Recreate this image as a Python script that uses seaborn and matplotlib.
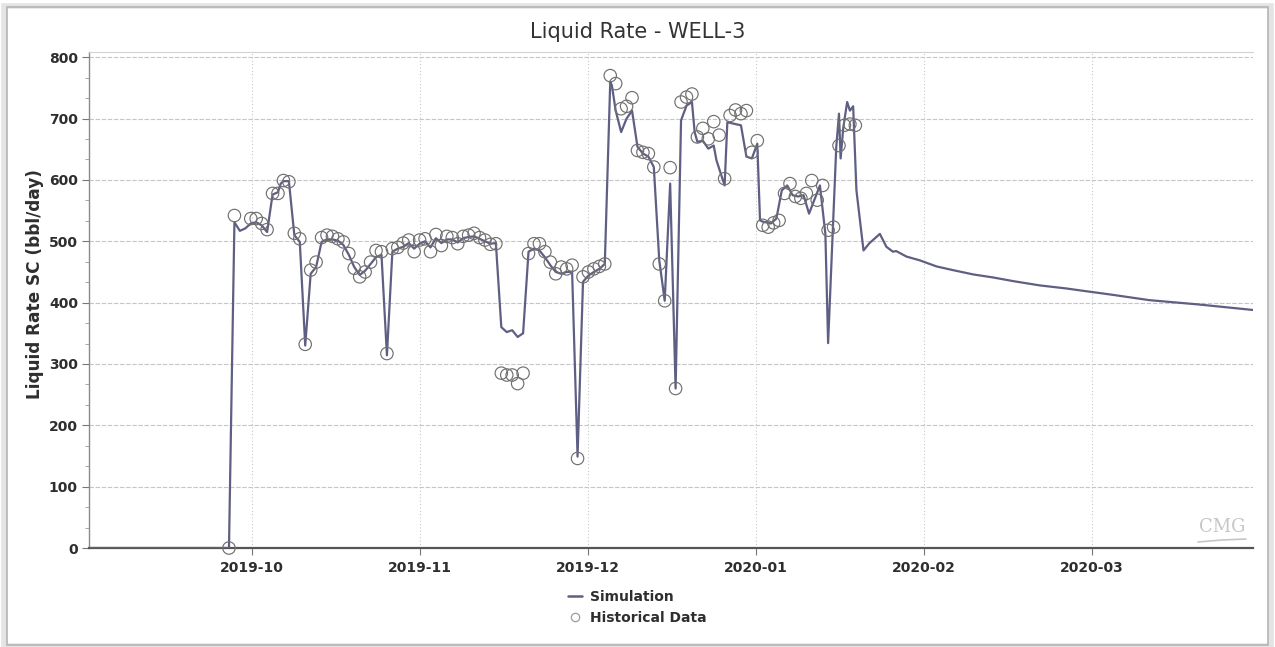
import numpy as np
import pandas as pd
import matplotlib
matplotlib.use("Agg")
import matplotlib.pyplot as plt
import matplotlib.dates as mdates
from matplotlib.lines import Line2D
from matplotlib.patches import Rectangle
from matplotlib.ticker import MultipleLocator, AutoMinorLocator
import seaborn as sns

# ---------------------------------------------------------------------------
# Data (liquid rate, bbl/day).  Times are given in days from 2019-10-01.
# ---------------------------------------------------------------------------
origin = pd.Timestamp("2019-10-01")

# Historical daily measurements, starting 2019-09-27 (NaN = no record)
hist_first = "2019-09-27"
hist_rate = [
    0, 542, np.nan, np.nan,
    537, 537, 529, 519, 578, 578, 599, 597, 513, 504,
    332, 453, 466, 506, 510, 508, 504, 499, 480, 456,
    442, 450, 466, 485, 483, 317, 488, 490, 497, 502,
    483, 502, 504, 483, 511, 493, 508, 506, 496, 508,
    510, 513, 506, 502, 495, 496, 285, 282, 282, 268,
    285, 480, 496, 496, 483, 466, 447, 458, 455, 461,
    146, 442, 450, 455, 459, 463, 770, 757, 716, 720,
    734, 648, 645, 643, 621, 463, 403, 620, 260, 727,
    735, 740, 670, 684, 667, 695, 673, 602, 705, 714,
    708, 713, 645, 664, 526, 523, 530, 534, 578, 594,
    573, 570, 578, 599, 567, 591, 518, 523, 656, 689,
    691, 689,
]

# Simulation output (report times in days, rates)
sim_day = [
    -30, -4, -3, -2, -1, 0, 1, 2, 3, 4, 5, 5.5, 6, 7, 8, 9, 10, 11, 12, 13,
    14, 15, 16, 17, 18, 19, 20, 21, 22, 23, 24, 25, 26, 27, 28, 29, 30, 31,
    32, 33, 34, 35, 36, 37, 38, 39, 40, 41, 42, 43, 44, 45, 46, 47, 48, 49,
    50, 51, 52, 53, 54, 55, 56, 57, 58, 59, 60, 61, 62, 63, 64, 65, 66, 66.3,
    67, 68, 69, 70, 71, 72, 73, 74, 75, 76, 77, 78, 79, 80, 81, 81.5, 82, 83,
    84, 85, 85.5, 87, 87.5, 89, 90, 91, 92, 93, 93.5, 94, 95.5, 96.5, 97.5,
    98.5, 99.5, 100.5, 101.5, 102.5, 104.5, 105.5, 106, 107.5, 108, 108.3,
    108.8, 109.5, 110, 110.6, 111.2, 112.5, 113.6, 115.5, 116.7, 117.9, 118.5,
    120.4, 122.8, 125.9, 128.9, 132.6, 136.3, 140, 144.9, 149.8, 152.2, 158,
    165, 174, 184,
]
sim_rate = [
    0, 0, 531, 517, 521, 529, 531, 526, 515, 576, 580, 594, 598, 598, 510, 499, 330, 447, 458, 499,
    503, 503, 501, 494, 478, 458, 445, 452, 463, 474, 478, 314, 483, 488, 491, 497, 488, 496,
    500, 490, 505, 497, 503, 503, 498, 505, 507, 508, 504, 500, 496, 497, 360, 352, 355, 344,
    350, 483, 488, 485, 474, 461, 450, 447, 450, 450, 149, 434, 444, 450, 455, 463, 760, 754,
    713, 678, 700, 713, 654, 643, 638, 621, 469, 403, 594, 260, 697, 721, 727, 678, 662, 664,
    651, 656, 632, 591, 694, 691, 689, 638, 635, 659, 534, 532, 529, 537, 583,
    591, 575, 573, 575, 545, 591, 512, 334, 654, 708, 635,
    686, 727, 713, 720, 583, 485, 497, 512, 491, 483, 484,
    475, 469, 459, 453, 446, 441, 435, 428, 423, 420, 413,
    404, 397, 388,
]

tick_labels_fmt = "%Y-%m"
n_ticks = 6
tick_first_day = 0.2
tick_step_days = 30.85
x_start_day, x_end_day = -29.7, 184.0

SIM_COLOR = "#5f5f84"
HIST_COLOR = "#707070"
TEXT_COLOR = "#2e2e2e"

# ---------------------------------------------------------------------------
sns.set_theme(style="white")
plt.rcParams["font.family"] = ["DejaVu Sans"]

fig = plt.figure(figsize=(12.75, 6.47), dpi=100)
ax = fig.add_axes([0.0698, 0.1530, 0.9129, 0.7671])

sim_dates = origin + pd.to_timedelta(np.asarray(sim_day, dtype=float), unit="D")
hist_dates = pd.date_range(hist_first, periods=len(hist_rate), freq="D")

sns.lineplot(x=np.asarray(sim_dates), y=sim_rate, ax=ax, color=SIM_COLOR,
             linewidth=1.6, estimator=None, sort=False, zorder=3)
sns.scatterplot(x=np.asarray(hist_dates), y=hist_rate, ax=ax, s=80,
                facecolor="none", edgecolor=HIST_COLOR, linewidth=0.85,
                zorder=4, clip_on=False)

# axes limits and ticks
x0 = mdates.date2num(origin + pd.Timedelta(days=x_start_day))
x1 = mdates.date2num(origin + pd.Timedelta(days=x_end_day))
ax.set_xlim(x0, x1)
ax.set_ylim(0, 809)

tick_dates = origin + pd.to_timedelta(tick_first_day + np.arange(n_ticks) * tick_step_days, unit="D")
ax.set_xticks(mdates.date2num(tick_dates.to_pydatetime()))
ax.xaxis.set_major_formatter(mdates.DateFormatter(tick_labels_fmt))
ax.yaxis.set_major_locator(MultipleLocator(100))
ax.yaxis.set_minor_locator(AutoMinorLocator(3))

ax.tick_params(axis="both", which="major", direction="out", length=5,
               width=0.8, color="#777777", labelsize=10, labelcolor=TEXT_COLOR)
ax.tick_params(axis="y", which="major", pad=3, left=True)
ax.tick_params(axis="x", which="major", pad=4, bottom=True)
ax.tick_params(axis="y", which="minor", direction="out", length=3,
               width=0.6, color="#999999", left=True)
for lbl in ax.get_xticklabels() + ax.get_yticklabels():
    lbl.set_fontweight("bold")

ax.set_xlabel("")
ax.set_ylabel("")

# grid
ax.set_axisbelow(True)
ax.grid(axis="y", which="major", color="#c6c6c6", linestyle=(0, (4, 1.5)), linewidth=0.8)
ax.grid(axis="x", which="major", color="#c8c8c8", linestyle=(0, (1, 2)), linewidth=0.8)

# spines
ax.spines["right"].set_visible(False)
ax.spines["top"].set_color("#d2d2d2")
ax.spines["top"].set_linewidth(0.8)
ax.spines["left"].set_color("#8a8a8a")
ax.spines["left"].set_linewidth(1.0)
ax.spines["bottom"].set_color("#555555")
ax.spines["bottom"].set_linewidth(1.6)

# titles
fig.text(0.5, 0.9505, "Liquid Rate - WELL-3", ha="center", va="center",
         fontsize=15, color="#333333")
fig.text(0.0275, 0.561, "Liquid Rate SC (bbl/day)", rotation=90,
         ha="center", va="center", fontsize=12.2, fontweight="bold",
         color=TEXT_COLOR)

# legend below the plot
handles = [
    Line2D([], [], color=SIM_COLOR, linewidth=1.8),
    Line2D([], [], marker="o", linestyle="none", markerfacecolor="none",
           markeredgecolor="#9c9c9c", markersize=6, markeredgewidth=0.9),
]
leg = fig.legend(handles, ["Simulation", "Historical Data"], loc="center",
                 bbox_to_anchor=(0.5, 0.061), frameon=False,
                 prop={"weight": "bold", "size": 10}, handlelength=1.0,
                 handletextpad=0.6, labelspacing=0.5, borderpad=0.2)
for t in leg.get_texts():
    t.set_color(TEXT_COLOR)

# software watermark in the lower-right corner of the plot
fig.text(1222 / 1275, 1 - 527 / 647, "CMG", ha="center", va="center",
         fontsize=13, color="#c6c6c6", family="DejaVu Serif")
fig.add_artist(Line2D([1198 / 1275, 1222 / 1275, 1246 / 1275],
                      [1 - 542 / 647, 1 - 540 / 647, 1 - 539 / 647],
                      color="#c6c6c6", linewidth=1.2))

# window frame with a soft shadow
fig.add_artist(Rectangle((0.0035, 0.001), 0.993, 0.990, transform=fig.transFigure,
                         fill=False, edgecolor="#e4e4e4", linewidth=4))
fig.add_artist(Rectangle((0.0055, 0.003), 0.989, 0.986, transform=fig.transFigure,
                         fill=False, edgecolor="#b4b4b4", linewidth=1.2))

fig.savefig("out.png", dpi=100)
